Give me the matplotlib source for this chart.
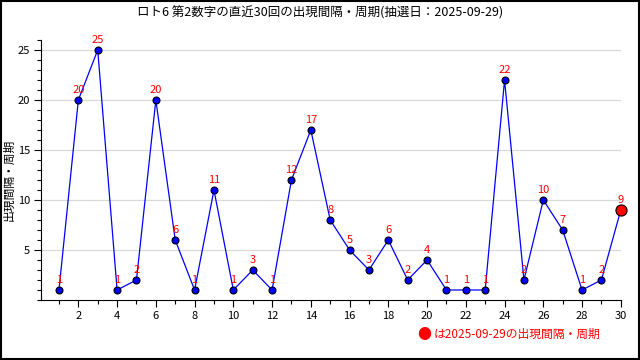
import numpy as np
import matplotlib.pyplot as plt
from matplotlib.ticker import MultipleLocator

plt.rcParams['font.family'] = ['Noto Sans CJK JP', 'DejaVu Sans']

# 直近30回の出現間隔
kaisu = np.arange(1, 31)
kankaku = [1, 20, 25, 1, 2, 20, 6, 1, 11, 1, 3, 1, 12, 17, 8,
           5, 3, 6, 2, 4, 1, 1, 1, 22, 2, 10, 7, 1, 2, 9]
titulo = 'ロト6 第2数字の直近30回の出現間隔・周期(抽選日：2025-09-29)'
leyenda = 'は2025-09-29の出現間隔・周期'

fig = plt.figure(figsize=(6.4, 3.6), dpi=100)
ax = fig.add_axes([0.064, 0.1667, 0.906, 0.7222])

ax.plot(kaisu, kankaku, '-', color='blue', lw=0.9, zorder=2)
ax.plot(kaisu[:-1], kankaku[:-1], 'o', color='blue', mec='black',
        mew=0.8, ms=5, zorder=3)
ax.plot(kaisu[-1], kankaku[-1], 'o', color='red', mec='black',
        mew=0.8, ms=8, zorder=3, clip_on=False)

for x, y in zip(kaisu, kankaku):
    ax.annotate(str(y), (x, y), xytext=(0, 3.5), textcoords='offset points',
                ha='center', va='bottom', color='red', fontsize=8)

ax.set_xlim(0.07, 30)
ax.set_ylim(0, 26)
ax.xaxis.set_major_locator(MultipleLocator(2))
ax.xaxis.set_minor_locator(MultipleLocator(1))
ax.yaxis.set_minor_locator(MultipleLocator(1))
ax.set_yticks([5, 10, 15, 20, 25])
ax.tick_params(axis='both', which='major', length=5, width=0.8, labelsize=8, pad=3)
ax.tick_params(axis='both', which='minor', length=3, width=0.8)
ax.grid(axis='y', which='major', color='#d9d9d9', lw=0.9, zorder=0)
ax.spines['top'].set_visible(False)
ax.spines['right'].set_visible(False)

fig.text(0.014, 0.5, '出現間隔・周期', rotation=90, ha='center', va='center', fontsize=8.5)
fig.text(0.5, 0.965, titulo, ha='center', va='center', fontsize=9)
fig.text(0.663, 0.07, '●', color='red', ha='center', va='center', fontsize=10)
fig.text(0.677, 0.07, leyenda, color='red', ha='left', va='center', fontsize=8.5)

# marco de la figura
fig.patches.append(plt.Rectangle((0.001, 0.002), 0.997, 0.995, transform=fig.transFigure,
                                 fill=False, edgecolor='black', lw=1.5))

fig.savefig('out.png', dpi=100)
